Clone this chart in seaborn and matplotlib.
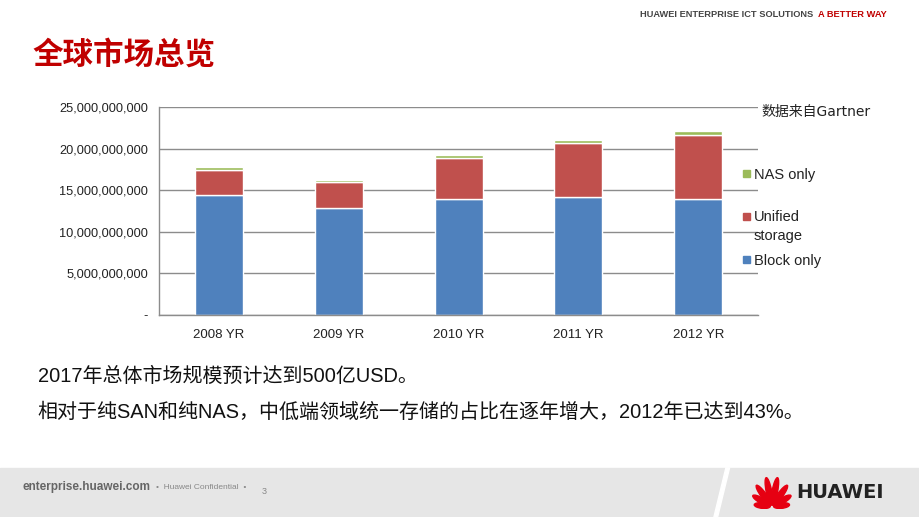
import numpy as np
import pandas as pd
import matplotlib.pyplot as plt
import matplotlib.patches as mpatches
import seaborn as sns

# data (USD)
years = ['2008 YR', '2009 YR', '2010 YR', '2011 YR', '2012 YR']
block_only = [14.40e9, 12.85e9, 13.90e9, 14.15e9, 13.90e9]
unified = [3.00e9, 3.10e9, 4.95e9, 6.50e9, 7.70e9]
nas_only = [0.35e9, 0.28e9, 0.40e9, 0.37e9, 0.48e9]
yticks = [0, 5e9, 10e9, 15e9, 20e9, 25e9]
legend_labels = ['NAS only', 'Unified\nstorage', 'Block only']

c_block = '#4F81BD'
c_unified = '#C0504D'
c_nas = '#9BBB59'

sns.set_style('white')
plt.rcParams['font.family'] = ['Liberation Sans', 'Noto Sans CJK SC']

fig = plt.figure(figsize=(9.2, 5.17), dpi=100)
ax = fig.add_axes([0.173, 0.391, 0.651, 0.402])

df = pd.DataFrame({'year': years, 'block': block_only, 'unified': unified, 'nas': nas_only})
b1 = np.array(block_only)
b2 = b1 + np.array(unified)
sns.barplot(data=df, x='year', y='block', color=c_block, width=0.4, ax=ax, saturation=1)
sns.barplot(data=df, x='year', y='unified', bottom=b1, color=c_unified, width=0.4, ax=ax, saturation=1)
sns.barplot(data=df, x='year', y='nas', bottom=b2, color=c_nas, width=0.4, ax=ax, saturation=1)

ax.set_xlim(-0.5, 4.5)
ax.set_ylim(0, 25e9)
ax.set_yticks(yticks)
ax.set_yticklabels(['-'] + ['{:,.0f}'.format(v) for v in yticks[1:]], fontsize=9.2, color='#222222')
ax.set_xticks(range(len(years)))
ax.set_xticklabels(years, fontsize=9.5, color='#222222')
ax.set_xticks(np.arange(-0.5, 5, 1), minor=True)
ax.tick_params(axis='x', which='major', length=0, pad=10)
ax.tick_params(axis='x', which='minor', length=5, color='#888888', direction='out')
ax.tick_params(axis='y', length=0, pad=8)
ax.set_xlabel('')
ax.set_ylabel('')
ax.yaxis.grid(True, color='#8c8c8c', linewidth=1)
ax.set_axisbelow(True)
for s in ['top', 'right']:
    ax.spines[s].set_visible(False)
for s in ['left', 'bottom']:
    ax.spines[s].set_color('#8c8c8c')
    ax.spines[s].set_linewidth(1)

# legend, laid out like the Excel one (uneven spacing)
W, H = 920.0, 517.0
for lab, col, ypix in zip(legend_labels, [c_nas, c_unified, c_block], [173, 216, 259]):
    fig.patches.append(mpatches.Rectangle((743 / W, 1 - (ypix + 3.5) / H), 7 / W, 7 / H,
                                          transform=fig.transFigure, color=col))
    fig.text(754 / W, 1 - (ypix - 5.5) / H, lab, fontsize=10.5, color='#222222', va='top',
             linespacing=1.4)

fig.text(0.828, 0.776, '数据来自Gartner', fontsize=10, color='#222222',
         family=['DejaVu Sans', 'Noto Sans CJK SC'])

# title
fig.text(0.035, 0.895, '全球市场总览', fontsize=22, color='#C00000', fontweight='bold',
         family=['Noto Sans CJK SC'], va='center')

# header
fig.text(0.884, 0.972, 'HUAWEI ENTERPRISE ICT SOLUTIONS', fontsize=6.7, color='#444444',
         fontweight='bold', va='center', ha='right')
fig.text(0.889, 0.972, 'A BETTER WAY', fontsize=6.7, color='#C00000', fontweight='bold',
         va='center', ha='left')

# body text
fig.text(0.041, 0.272, '2017年总体市场规模预计达到500亿USD。', fontsize=14.4, color='#111111', va='center')
fig.text(0.041, 0.203, '相对于纯SAN和纯NAS，中低端领域统一存储的占比在逐年增大，2012年已达到43%。',
         fontsize=14.4, color='#111111', va='center')

# footer band
fig.patches.append(mpatches.Rectangle((0, 0), 1, 0.095, transform=fig.transFigure,
                                      color='#e6e6e6', zorder=-2))
fig.patches.append(mpatches.Polygon([[0.776, 0], [0.780, 0], [0.793, 0.095], [0.789, 0.095]],
                                    closed=True, transform=fig.transFigure, color='white', zorder=-1))
fig.text(0.024, 0.058, 'enterprise.huawei.com', fontsize=8.5, color='#666666', fontweight='bold', va='center')
fig.text(0.170, 0.058, '•  Huawei Confidential  •', fontsize=6, color='#888888', va='center')
fig.text(0.284, 0.049, '3', fontsize=6.5, color='#888888', va='center')

# logo petals
lax = fig.add_axes([0.816, 0.016, 0.046, 0.064])
lax.set_xlim(-1.4, 1.4)
lax.set_ylim(-0.1, 1.45)
lax.set_aspect('equal', adjustable='datalim')
lax.axis('off')
for ang, ln in [(-84, 0.75), (-60, 0.95), (-36, 1.15), (-11, 1.3), (11, 1.3), (36, 1.15), (60, 0.95), (84, 0.75)]:
    t = np.deg2rad(ang)
    d = ln / 2 + 0.08
    e = mpatches.Ellipse((d * np.sin(t), d * np.cos(t)), 0.26, ln, angle=-ang, color='#E60012')
    lax.add_patch(e)
fig.text(0.866, 0.047, 'HUAWEI', fontsize=14, color='#222222', fontweight='bold', va='center',
         family=['DejaVu Sans'])

fig.savefig('out.png', dpi=100)
